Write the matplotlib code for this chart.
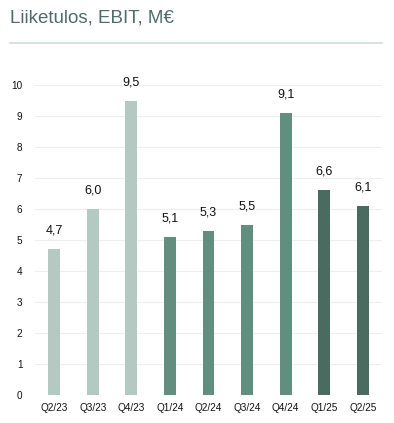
import matplotlib
matplotlib.use("Agg")
import matplotlib.pyplot as plt
from matplotlib.lines import Line2D

# data
quarters = ["Q2/23", "Q3/23", "Q4/23", "Q1/24", "Q2/24", "Q3/24", "Q4/24", "Q1/25", "Q2/25"]
ebit = [4.7, 6.0, 9.5, 5.1, 5.3, 5.5, 9.1, 6.6, 6.1]
year_group = [2023, 2023, 2023, 2024, 2024, 2024, 2024, 2025, 2025]
group_colors = {2023: "#b4c9c2", 2024: "#628e80", 2025: "#4a6b60"}

plt.rcParams["font.family"] = ["Liberation Sans", "DejaVu Sans"]

fig = plt.figure(figsize=(3.94, 4.23), dpi=100)
ax = fig.add_axes([35 / 394, 1 - 395 / 423, 347 / 394, 310 / 423])

x = list(range(len(quarters)))
colors = [group_colors[g] for g in year_group]
bars = ax.bar(x, ebit, width=0.31, color=colors, zorder=3)

for b, v in zip(bars, ebit):
    ax.annotate(f"{v:.1f}".replace(".", ","), (b.get_x() + b.get_width() / 2, v),
                xytext=(0, 9), textcoords="offset points", ha="center", va="bottom",
                fontsize=9, color="#111111")

ax.set_xlim(-0.5, 8.5)
ax.set_ylim(0, 10)
ax.set_yticks(range(0, 11))
ax.set_xticks(x)
ax.set_xticklabels(quarters)
ax.tick_params(axis="both", length=0, labelsize=7.2, colors="#111111")
ax.tick_params(axis="y", pad=9)
ax.tick_params(axis="x", pad=6)
ax.grid(axis="y", color="#eeeeee", linewidth=0.8, zorder=0)
for s in ax.spines.values():
    s.set_visible(False)

# title and separator line
fig.text(10 / 394, 1 - 18 / 423, "Liiketulos, EBIT, M€", fontsize=13.5,
         color="#4f6b6b", ha="left", va="center")
fig.add_artist(Line2D([10 / 394, 382 / 394], [1 - 43 / 423, 1 - 43 / 423],
                      color="#d3dbdb", linewidth=1.2))

fig.savefig("out.png", dpi=100)
